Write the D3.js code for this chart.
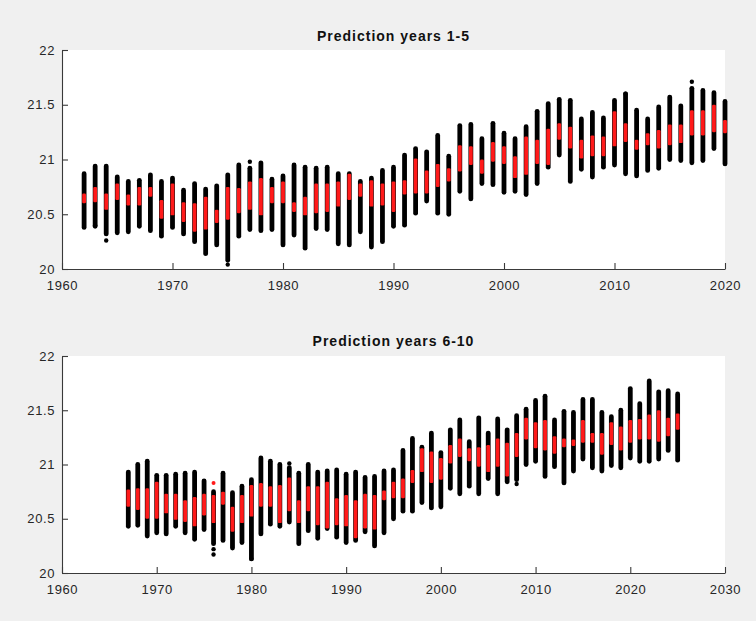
<!DOCTYPE html>
<html>
<head>
<meta charset="utf-8">
<script src="https://cdn.jsdelivr.net/npm/d3@7"></script>
<style>
  html, body { margin: 0; padding: 0; background: #f0f0f0; }
  svg { display: block; }
  text { font-family: "Liberation Sans", Arial, Helvetica, sans-serif; }
</style>
</head>
<body>
<svg id="chart" width="756" height="621"></svg>
<script>
// ---------- DATA ----------
const titles = ["Prediction years 1-5", "Prediction years 6-10"];
const yTicks = [20, 20.5, 21, 21.5, 22];
const yTickLabels = ["20", "20.5", "21", "21.5", "22"];
const xTicks1 = [1960, 1970, 1980, 1990, 2000, 2010, 2020];
const xTicks2 = [1960, 1970, 1980, 1990, 2000, 2010, 2020, 2030];

// Panel 1: prediction years 1-5
const years1 = [1962,1963,1964,1965,1966,1967,1968,1969,1970,1971,1972,1973,1974,1975,1976,1977,1978,1979,1980,
  1981,1982,1983,1984,1985,1986,1987,1988,1989,1990,1991,1992,1993,1994,1995,1996,1997,1998,1999,2000,
  2001,2002,2003,2004,2005,2006,2007,2008,2009,2010,2011,2012,2013,2014,2015,2016,2017,2018,2019,2020];
const min1 = [20.38,20.39,20.32,20.33,20.34,20.39,20.35,20.30,20.38,20.32,20.25,20.14,20.22,20.08,20.30,20.36,20.35,20.36,20.22,
  20.31,20.19,20.37,20.36,20.23,20.22,20.34,20.20,20.25,20.39,20.40,20.51,20.62,20.51,20.50,20.71,20.64,20.78,20.77,20.70,
  20.71,20.68,20.78,20.93,21.04,20.80,20.91,20.84,20.93,20.95,20.87,20.85,20.90,20.92,21.00,20.99,20.97,20.99,21.10,20.96];
const max1 = [20.87,20.94,20.94,20.84,20.80,20.81,20.86,20.80,20.83,20.72,20.78,20.73,20.76,20.86,20.95,20.92,20.97,20.82,20.85,
  20.95,20.93,20.92,20.93,20.87,20.87,20.80,20.83,20.90,20.93,21.04,21.10,21.07,21.22,21.03,21.31,21.32,21.19,21.33,21.24,
  21.19,21.30,21.44,21.51,21.55,21.54,21.37,21.43,21.38,21.54,21.60,21.45,21.37,21.48,21.57,21.49,21.65,21.63,21.61,21.53];
const redLo1 = [20.60,20.61,20.54,20.63,20.58,20.58,20.66,20.46,20.49,20.43,20.34,20.36,20.42,20.45,20.51,20.54,20.49,20.60,20.60,
  20.52,20.49,20.51,20.52,20.57,20.63,20.66,20.57,20.58,20.52,20.68,20.69,20.69,20.75,20.80,20.89,20.95,20.87,20.98,20.96,
  20.83,20.86,20.96,20.95,21.18,21.10,21.01,21.03,21.03,21.12,21.16,21.09,21.13,21.10,21.13,21.15,21.22,21.22,21.25,21.24];
const redHi1 = [20.69,20.75,20.69,20.78,20.68,20.75,20.75,20.63,20.78,20.61,20.60,20.66,20.54,20.75,20.74,20.80,20.83,20.75,20.80,
  20.61,20.66,20.78,20.78,20.80,20.87,20.78,20.81,20.78,20.80,20.81,21.01,20.90,20.96,20.92,21.13,21.12,21.00,21.16,21.12,
  21.03,21.21,21.18,21.28,21.33,21.30,21.18,21.22,21.21,21.44,21.33,21.18,21.24,21.27,21.32,21.32,21.45,21.45,21.50,21.36];
const outYears1 = [1963, 1964, 1975, 1977, 2017, 2011];
const outVals1  = [20.40, 20.26, 20.04, 20.98, 21.71, 21.60];

// Panel 2: prediction years 6-10
const years2 = [1967,1968,1969,1970,1971,1972,1973,1974,1975,1976,1977,1978,1979,1980,
  1981,1982,1983,1984,1985,1986,1987,1988,1989,1990,1991,1992,1993,1994,1995,1996,1997,1998,1999,2000,
  2001,2002,2003,2004,2005,2006,2007,2008,2009,2010,2011,2012,2013,2014,2015,2016,2017,2018,2019,2020,
  2021,2022,2023,2024,2025];
const min2 = [20.43,20.44,20.34,20.37,20.36,20.43,20.37,20.31,20.40,20.27,20.30,20.23,20.28,20.13,
  20.36,20.45,20.43,20.47,20.27,20.39,20.32,20.41,20.33,20.28,20.30,20.38,20.25,20.37,20.50,20.57,20.57,20.65,20.60,20.61,
  20.78,20.73,20.80,20.73,20.87,20.73,20.84,20.86,21.00,21.03,20.89,20.98,20.83,20.94,21.05,20.97,20.94,20.99,20.97,21.06,
  21.03,21.03,21.05,21.13,21.04];
const max2 = [20.93,21.00,21.03,20.90,20.90,20.91,20.92,20.93,20.85,20.75,20.92,20.74,20.80,20.86,
  21.06,21.03,21.00,20.97,20.92,21.00,20.93,20.94,20.95,20.91,20.93,20.88,20.89,20.94,20.95,21.13,21.24,21.16,21.29,21.11,
  21.32,21.41,21.21,21.43,21.29,21.42,21.32,21.45,21.51,21.59,21.63,21.41,21.49,21.48,21.60,21.60,21.48,21.44,21.50,21.70,
  21.56,21.77,21.67,21.68,21.65];
const redLo2 = [20.61,20.58,20.50,20.50,20.55,20.49,20.47,20.43,20.53,20.46,20.63,20.38,20.46,20.52,
  20.61,20.61,20.46,20.57,20.46,20.57,20.44,20.41,20.44,20.43,20.32,20.41,20.40,20.67,20.69,20.69,20.83,20.93,20.83,20.86,
  21.01,21.07,21.03,20.98,20.93,20.98,20.89,21.07,21.23,21.15,21.13,21.10,21.16,21.17,21.20,21.20,21.09,21.18,21.13,21.20,
  21.23,21.23,21.21,21.26,21.32];
const redHi2 = [20.77,20.78,20.78,20.84,20.73,20.73,20.67,20.70,20.73,20.72,20.75,20.61,20.72,20.81,
  20.83,20.80,20.81,20.88,20.67,20.80,20.80,20.84,20.69,20.72,20.67,20.73,20.72,20.76,20.84,20.87,20.95,21.15,21.12,21.06,
  21.18,21.24,21.15,21.16,21.18,21.24,21.20,21.29,21.43,21.39,21.41,21.26,21.24,21.23,21.41,21.29,21.29,21.39,21.35,21.41,
  21.42,21.46,21.50,21.43,21.47];
const outYears2 = [1976, 1976, 1984, 2008, 1980];
const outVals2  = [20.22, 20.17, 21.01, 20.82, 20.13];
const redOutYears2 = [1976];
const redOutVals2  = [20.83];

// ---------- DRAWING ----------
const svg = d3.select("#chart");
svg.append("rect").attr("width", 756).attr("height", 621).attr("fill", "#f0f0f0");

const panels = [
  { title: titles[0], top: 50, bottom: 269, xDomain: [1960, 2020], xTicks: xTicks1, titleY: 41,
    years: years1, mins: min1, maxs: max1, rLo: redLo1, rHi: redHi1,
    oYears: outYears1, oVals: outVals1, rOYears: [], rOVals: [] },
  { title: titles[1], top: 356, bottom: 573, xDomain: [1960, 2030], xTicks: xTicks2, titleY: 346,
    years: years2, mins: min2, maxs: max2, rLo: redLo2, rHi: redHi2,
    oYears: outYears2, oVals: outVals2, rOYears: redOutYears2, rOVals: redOutVals2 }
];

const left = 62, right = 725;
const barW = 4.8;
const redW = 3.8;

panels.forEach(p => {
  const x = d3.scaleLinear().domain(p.xDomain).range([left, right]);
  const y = d3.scaleLinear().domain([20, 22]).range([p.bottom, p.top]);
  const g = svg.append("g");

  g.append("rect").attr("x", left).attr("y", p.top)
    .attr("width", right - left).attr("height", p.bottom - p.top).attr("fill", "#ffffff");

  // black ensemble spread
  g.append("g").selectAll("line").data(p.years).join("line")
    .attr("x1", d => x(d)).attr("x2", d => x(d))
    .attr("y1", (d, i) => y(p.mins[i])).attr("y2", (d, i) => y(p.maxs[i]))
    .attr("stroke", "#000").attr("stroke-width", barW).attr("stroke-linecap", "round");

  g.append("g").selectAll("circle").data(p.oYears).join("circle")
    .attr("cx", d => x(d)).attr("cy", (d, i) => y(p.oVals[i]))
    .attr("r", 2.2).attr("fill", "#000");

  // red markers
  g.append("g").selectAll("rect").data(p.years).join("rect")
    .attr("x", d => x(d) - redW / 2)
    .attr("y", (d, i) => y(p.rHi[i]))
    .attr("width", redW)
    .attr("height", (d, i) => y(p.rLo[i]) - y(p.rHi[i]))
    .attr("rx", 1.2)
    .attr("fill", "#ff1a1a");

  g.append("g").selectAll("circle").data(p.rOYears).join("circle")
    .attr("cx", d => x(d)).attr("cy", (d, i) => y(p.rOVals[i]))
    .attr("r", 2).attr("fill", "#ff1a1a");

  // axes
  const xAxis = d3.axisBottom(x).tickValues(p.xTicks).tickFormat(d3.format("d"))
    .tickSizeInner(-6).tickSizeOuter(0).tickPadding(12);
  const yAxis = d3.axisLeft(y).tickValues(yTicks).tickFormat((d, i) => yTickLabels[i])
    .tickSizeInner(-6).tickSizeOuter(0).tickPadding(7);

  const gx = g.append("g").attr("transform", `translate(0,${p.bottom})`).call(xAxis);
  const gy = g.append("g").attr("transform", `translate(${left},0)`).call(yAxis);
  [gx, gy].forEach(a => {
    a.select(".domain").attr("stroke", "#3a3a3a").attr("stroke-width", 1.1);
    a.selectAll(".tick line").attr("stroke", "#3a3a3a").attr("stroke-width", 1.1);
    a.selectAll(".tick text").attr("fill", "#262626")
      .style("font-size", "13px").style("letter-spacing", "0.6px")
      .style("font-family", "'Liberation Sans', Arial, Helvetica, sans-serif");
  });

  g.append("text").attr("x", (left + right) / 2).attr("y", p.titleY)
    .attr("text-anchor", "middle")
    .style("font-size", "14px").style("font-weight", "bold").style("letter-spacing", "1px")
    .attr("fill", "#111")
    .text(p.title);
});
</script>
</body>
</html>
